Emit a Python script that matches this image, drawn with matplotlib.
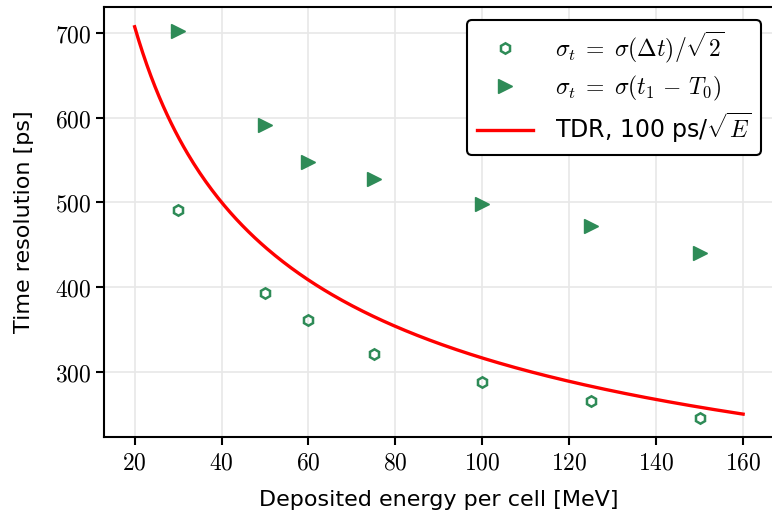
import numpy as np
import matplotlib.pyplot as plt
from matplotlib.ticker import FuncFormatter

plt.rcParams['mathtext.fontset'] = 'cm'
plt.rcParams['font.family'] = ['DejaVu Sans']

# measured points
energy = [30, 50, 60, 75, 100, 125, 150]
sigma_dt = [491, 393, 361, 321, 288, 265, 246]
sigma_t0 = [702, 591, 547, 528, 498, 472, 440]

# TDR expectation: 100 ps / sqrt(E [GeV])
tdr_const = 100
e_curve = np.linspace(20, 160, 300)
tdr_curve = tdr_const / np.sqrt(e_curve / 1000)

green = '#2e8b57'

fig = plt.figure(figsize=(7.72, 5.16), dpi=100)
ax = fig.add_axes([0.135, 0.153, 0.867, 0.833])

ax.plot(energy, sigma_dt, 'h', mfc='none', mec=green, mew=1.8, ms=7.5,
        label=r'$\sigma_t\;=\;\sigma(\Delta t)/\sqrt{2}$', zorder=3)
ax.plot(energy, sigma_t0, '>', color=green, ms=9.5,
        label=r'$\sigma_t\;=\;\sigma(t_1\,-\,T_0)$', zorder=3)
ax.plot(e_curve, tdr_curve, color='red', lw=2.4,
        label=r'TDR, 100 ps/$\sqrt{E}$', zorder=2)

ax.grid(True, color='#e8e8e8', lw=1.2)
ax.set_axisbelow(True)
for s in ax.spines.values():
    s.set_linewidth(1.5)
ax.tick_params(direction='out', length=6, width=1.5, labelsize=17)

fmt = FuncFormatter(lambda v, p: r'$%d$' % v)
ax.xaxis.set_major_formatter(fmt)
ax.yaxis.set_major_formatter(fmt)

ax.set_xlabel('Deposited energy per cell [MeV]', fontsize=16, labelpad=11)
ax.set_ylabel('Time resolution [ps]', fontsize=16, labelpad=15)

leg = ax.legend(loc='upper right', fontsize=17, frameon=True, fancybox=True,
                edgecolor='black', framealpha=1, handlelength=2.4,
                handletextpad=0.9, labelspacing=0.35, borderaxespad=0.55)
leg.get_frame().set_linewidth(1.5)

fig.savefig('out.png', dpi=100)
